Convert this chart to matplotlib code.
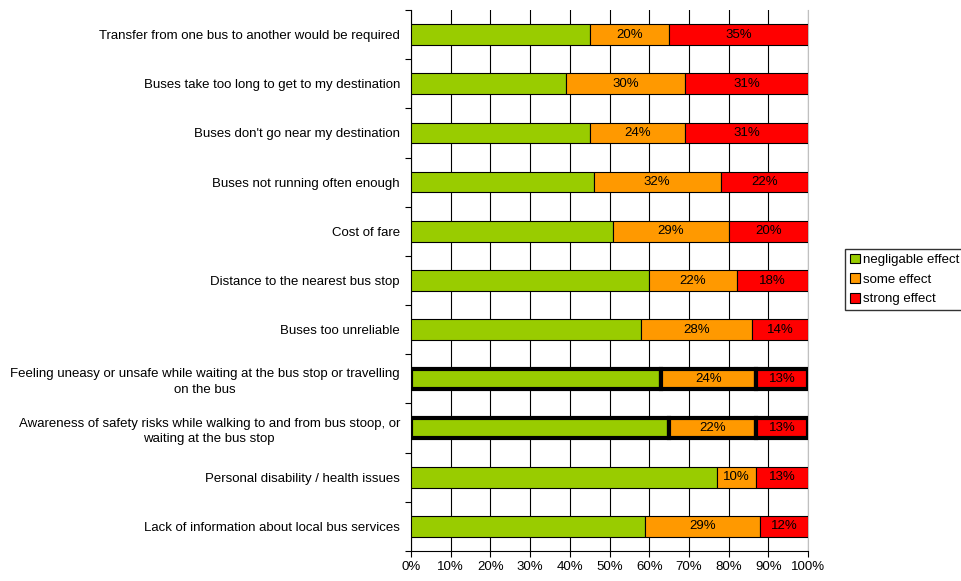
import matplotlib.pyplot as plt
import numpy as np

plt.rcParams['font.family'] = ['Liberation Sans', 'DejaVu Sans']

categories = [
    'Transfer from one bus to another would be required',
    'Buses take too long to get to my destination',
    "Buses don't go near my destination",
    'Buses not running often enough',
    'Cost of fare',
    'Distance to the nearest bus stop',
    'Buses too unreliable',
    'Feeling uneasy or unsafe while waiting at the bus stop or travelling\non the bus',
    'Awareness of safety risks while walking to and from bus stoop, or\nwaiting at the bus stop',
    'Personal disability / health issues',
    'Lack of information about local bus services',
]
negligable = [45, 39, 45, 46, 51, 60, 58, 63, 65, 77, 59]
some = [20, 30, 24, 32, 29, 22, 28, 24, 22, 10, 29]
strong = [35, 31, 31, 22, 20, 18, 14, 13, 13, 13, 12]
highlighted = [False] * 7 + [True, True] + [False] * 2

series_names = ['negligable effect', 'some effect', 'strong effect']
colors = ['#99CC00', '#FF9900', '#FF0000']

fig = plt.figure(figsize=(9.61, 5.81), dpi=100)
ax = fig.add_axes([0.4277, 0.0516, 0.4131, 0.9312])

n = len(categories)
y = np.arange(n)
data = [negligable, some, strong]
left = np.zeros(n)
handles = []
for k, (vals, col) in enumerate(zip(data, colors)):
    vals = np.array(vals, dtype=float)
    lw = [3.0 if h else 0.8 for h in highlighted]
    bars = ax.barh(y, vals, left=left, height=0.42, color=col,
                   edgecolor='black', linewidth=lw, zorder=3,
                   label=series_names[k])
    handles.append(bars)
    if k > 0:
        for yi, l, v in zip(y, left, vals):
            ax.text(l + v / 2, yi, f'{int(v)}%', ha='center', va='center',
                    fontsize=9.5, zorder=4)
    left += vals

ax.set_xlim(0, 100)
ax.set_ylim(n - 0.5, -0.5)
ax.set_xticks(np.arange(0, 101, 10))
ax.set_xticklabels([f'{t}%' for t in range(0, 101, 10)], fontsize=9.5)
ax.set_yticks(y)
ax.set_yticklabels(categories, fontsize=9.5)
ax.set_yticks(np.arange(-0.5, n, 1), minor=True)
ax.tick_params(axis='y', which='major', length=0, pad=8)
ax.tick_params(axis='y', which='minor', length=4, width=0.8)
ax.tick_params(axis='x', length=4, width=0.8)
for lab in ax.get_yticklabels():
    lab.set_multialignment('center')
    lab.set_linespacing(1.4)

ax.grid(axis='x', color='black', linewidth=0.8, zorder=0)
ax.spines['top'].set_visible(False)
ax.spines['right'].set_color('#C0C0C0')
ax.spines['left'].set_linewidth(0.8)
ax.spines['bottom'].set_linewidth(0.8)

leg = fig.legend(handles=handles, labels=series_names, loc='upper left',
                 bbox_to_anchor=(845 / 961, 1 - 249 / 581), fontsize=9.5,
                 frameon=True, fancybox=False, edgecolor='black',
                 handlelength=0.75, handleheight=0.75, handletextpad=0.25,
                 borderpad=0.35, labelspacing=0.55, borderaxespad=0)
for h in leg.legend_handles:
    h.set_linewidth(0.8)

fig.savefig('out.png', dpi=100)
